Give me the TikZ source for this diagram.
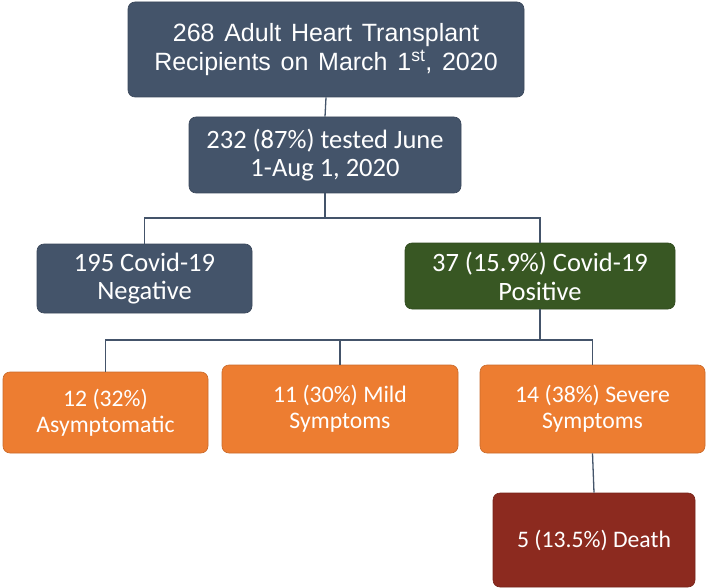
\documentclass[tikz,border=0pt]{standalone}
\usepackage{fontspec}
\setmainfont{Carlito}
\newfontfamily\arialfont[WordSpace={1.4}]{Liberation Sans}
\definecolor{slate}{HTML}{44546A}
\definecolor{darkgreen}{HTML}{385723}
\definecolor{orng}{HTML}{ED7D31}
\definecolor{darkred}{HTML}{8C2A1F}
\begin{document}
\begin{tikzpicture}[x=1pt,y=-1pt,
  box/.style={rectangle, rounded corners=7pt, draw=#1!85!black, line width=0.6pt, fill=#1, text=white, align=center, inner sep=0pt},
  conn/.style={draw=slate, line width=1.3pt}]
\useasboundingbox (0,0) rectangle (709,588);
\node[box=slate, minimum width=396pt, minimum height=95pt, font=\arialfont\fontsize{25}{29}\selectfont] (top) at (326,49.5)
  {268 Adult Heart Transplant\\Recipients on March 1\textsuperscript{st}, 2020};
\node[box=slate, minimum width=272pt, minimum height=76pt, font=\fontsize{26.5}{28}\selectfont] (tested) at (325,155)
  {232 (87\%) tested June\\1-Aug 1, 2020};
\node[box=slate, minimum width=215pt, minimum height=69pt, font=\fontsize{26.5}{28}\selectfont] (neg) at (144.5,278.5)
  {195 Covid-19\\Negative};
\node[box=darkgreen, minimum width=270pt, minimum height=66pt, font=\fontsize{26.5}{29}\selectfont] (pos) at (540,276)
  {37 (15.9\%) Covid-19\\Positive};
\node[box=orng, minimum width=205pt, minimum height=81pt, font=\fontsize{23.7}{26}\selectfont] (asym) at (105.5,412.5)
  {12 (32\%)\\Asymptomatic};
\node[box=orng, minimum width=236pt, minimum height=88pt, font=\fontsize{23.7}{26}\selectfont] (mild) at (340,409)
  {11 (30\%) Mild\\Symptoms};
\node[box=orng, minimum width=225pt, minimum height=88pt, font=\fontsize{23.7}{26}\selectfont] (severe) at (592.5,409)
  {14 (38\%) Severe\\Symptoms};
\node[box=darkred, minimum width=202pt, minimum height=94pt, font=\fontsize{23.7}{26}\selectfont] (death) at (594,540)
  {5 (13.5\%) Death};
\draw[conn] (top.south) -- (tested.north);
\coordinate (j1) at (325,218);
\draw[conn] (tested.south) -- (j1) -| (neg.north);
\draw[conn] (j1) -| (pos.north);
\coordinate (j2) at (540,340);
\draw[conn] (pos.south) -- (j2) -| (asym.north);
\draw[conn] (j2) -| (mild.north);
\draw[conn] (j2) -| (severe.north);
\draw[conn] (severe.south) -- (death.north);
\end{tikzpicture}
\end{document}
